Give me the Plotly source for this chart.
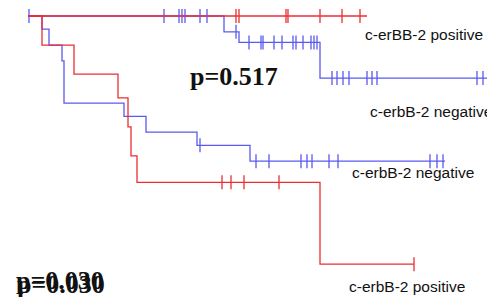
import plotly.graph_objects as go

# ---- data (time in months, survival proportion) ----
# Panel A (p=0.517)
a_pos_event_t = [0, 84.75]
a_pos_event_s = [1.0, 1.0]
a_pos_cens_t = [52, 52.75, 64.5, 65, 73, 78.5, 83]
a_pos_cens_s = [1.0] * 7

a_neg_event_t = [0, 49, 52.75, 73, 116]
a_neg_event_s = [1.0, 0.94, 0.90, 0.765, 0.765]
a_neg_cens_t = [0.25, 34, 37.75, 38.5, 39.25, 43, 44.75, 52,
                55.25, 58.25, 58.75, 61.5, 63.5, 66.25, 67, 68.75, 70.75, 71.5, 72.25,
                76, 77.25, 78.75, 80.25, 84.75, 86, 87.25, 112.25, 113.75]
a_neg_cens_s = [1.0] * 7 + [0.94] + [0.90] * 11 + [0.765] * 9

# Panel B (p=0.030)
b_neg_event_t = [0, 3.5, 5.25, 8.5, 9, 24, 29.5, 42.25, 55.5, 104.25]
b_neg_event_s = [1.0, 0.95, 0.89, 0.83, 0.67, 0.62, 0.56, 0.51, 0.45, 0.45]
b_neg_cens_t = [43, 57, 60.25, 68.25, 69.75, 71, 75.25, 77.5, 100.5, 102.25, 103.75]
b_neg_cens_s = [0.51] + [0.45] * 10

b_pos_event_t = [0, 3.5, 11.5, 22.5, 25, 25.75, 27.25, 73, 96.5]
b_pos_event_s = [1.0, 0.89, 0.78, 0.69, 0.58, 0.47, 0.37, 0.06, 0.06]
b_pos_cens_t = [48.5, 50.75, 54, 62.75, 96.5]
b_pos_cens_s = [0.37] * 4 + [0.06]

RED = "rgb(236,45,50)"
BLUE = "rgb(90,90,240)"

fig = go.Figure()

def curve(t, s, color):
    fig.add_trace(go.Scatter(x=t, y=s, mode="lines", line=dict(color=color, width=1.3, shape="hv"),
                             showlegend=False, hoverinfo="skip"))

def cens(t, s, color):
    fig.add_trace(go.Scatter(x=t, y=s, mode="markers",
                             marker=dict(symbol="line-ns", size=10, line=dict(color=color, width=1.3)),
                             showlegend=False, hoverinfo="skip"))

curve(a_neg_event_t, a_neg_event_s, BLUE)
cens(a_neg_cens_t, a_neg_cens_s, BLUE)
curve(b_neg_event_t, b_neg_event_s, BLUE)
cens(b_neg_cens_t, b_neg_cens_s, BLUE)
curve(a_pos_event_t, a_pos_event_s, RED)
cens(a_pos_cens_t, a_pos_cens_s, RED)
curve(b_pos_event_t, b_pos_event_s, RED)
cens(b_pos_cens_t, b_pos_cens_s, RED)

W, H = 495, 297
OFF = 8  # page body margin offset

def px(x, y):
    return (x - OFF) / W, 1 - (y - OFF) / H

lab_font = dict(family="Liberation Sans, Arial", size=15.5, color="#111")
p_font = dict(family="Liberation Serif, Times New Roman", size=26, color="#111")

anns = [
    ("c-erBB-2 positive", 363, 34, lab_font),
    ("c-erbB-2 negative", 368, 112, lab_font),
    ("c-erbB-2 negative", 350, 172, lab_font),
    ("c-erbB-2 positive", 347, 286, lab_font),
    ("<b>p=0.517</b>", 188, 77, p_font),
    ("<b>p=0.030</b>", 14, 280, p_font),
    ("<b>p=0.030</b>", 15, 284, p_font),
]
for text, x, y, f in anns:
    ax, ay = px(x, y)
    fig.add_annotation(text=text, x=ax, y=ay, xref="paper", yref="paper",
                       xanchor="left", yanchor="middle", showarrow=False, font=f)

# time t -> screen px = 28 + 4t ; survival s -> screen py = 280 - 264 s
fig.update_layout(
    width=W, height=H, margin=dict(l=0, r=0, t=0, b=0),
    paper_bgcolor="white", plot_bgcolor="white",
    xaxis=dict(range=[(OFF - 28) / 4, (OFF + W - 28) / 4], visible=False),
    yaxis=dict(range=[(280 - OFF - H) / 264, (280 - OFF) / 264], visible=False),
)

fig.write_html("out.html")
